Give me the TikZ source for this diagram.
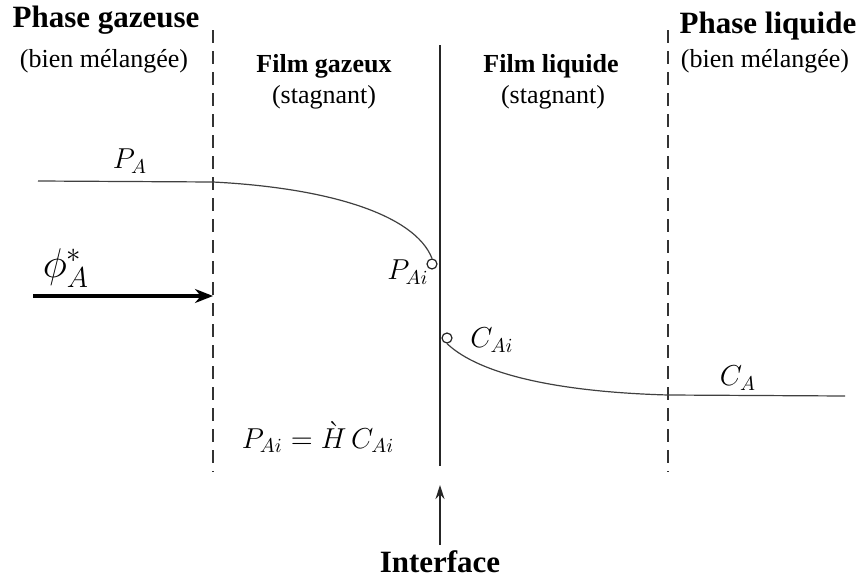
\documentclass[tikz,border=0pt]{standalone}
\usepackage{fontspec}
\setmainfont{Liberation Serif}
\usetikzlibrary{arrows.meta}
\begin{document}
\begin{tikzpicture}[x=0.5pt,y=-0.5pt,
  title/.style={font=\fontsize{15.5}{18}\selectfont\bfseries, inner sep=0pt},
  ftitle/.style={font=\fontsize{13}{15}\selectfont\bfseries, inner sep=0pt},
  sub/.style={font=\fontsize{13}{15}\selectfont, inner sep=0pt},
  mlab/.style={font=\fontsize{14}{16}\selectfont, inner sep=0pt},
  dline/.style={draw=black!80, line width=0.8pt, dash pattern=on 6.5pt off 4pt},
  curve/.style={draw=black!75, line width=0.6pt},
  ringmark/.style={circle, draw=black!85, line width=0.6pt, minimum size=5pt, inner sep=0pt, fill=white}]
\useasboundingbox (0,0) rectangle (858,578);
% titles
\node[title] (pg) at (106,20) {Phase gazeuse};
\node[sub] (pgs) at (104,61) {(bien mélangée)};
\node[ftitle] (fg) at (324,66) {Film gazeux};
\node[sub] (fgs) at (324,97) {(stagnant)};
\node[ftitle] (fl) at (551,66) {Film liquide};
\node[sub] (fls) at (553,97) {(stagnant)};
\node[title] (pl) at (768,26) {Phase liquide};
\node[sub] (pls) at (765,61) {(bien mélangée)};
% boundaries
\coordinate (d1t) at (213,30); \coordinate (d1b) at (213,472);
\coordinate (d2t) at (668,30); \coordinate (d2b) at (668,472);
\coordinate (it) at (440,45); \coordinate (ib) at (440,466);
\draw[dline] (d1t) -- (d1b);
\draw[dline] (d2t) -- (d2b);
\draw[draw=black!85, line width=0.9pt] (it) -- (ib);
% interface label and arrow
\node[title] (intf) at (440,562) {Interface};
\coordinate (ia) at (440,485);
\coordinate (ib0) at (440,545);
\draw[draw=black!85, line width=0.7pt, -{Stealth[length=7pt,width=4.5pt]}] (ib0) -- (ia);
% interface marks
\node[ringmark] (pai) at (432,264) {};
\node[ringmark] (cai) at (447,338) {};
% PA profile
\coordinate (pa0) at (38,181);
\coordinate (pa1) at (213,182);
\draw[curve] (pa0) -- (pa1) .. controls (330,188) and (415,215) .. (pai.north);
% CA profile
\coordinate (ca1) at (668,395);
\coordinate (ca2) at (845,396);
\draw[curve] (cai.south) .. controls (480,375) and (560,392) .. (ca1) -- (ca2);
% flux arrow
\coordinate (f0) at (33,296);
\coordinate (f1) at (213,296);
\draw[line width=1.8pt, -{Stealth[length=9pt,width=7pt]}] (f0) -- (f1);
% labels
\node[mlab] (lpa) at (130,161) {$P_A$};
\node[font=\fontsize{20}{22}\selectfont, inner sep=0pt] (lphi) at (66,268) {$\phi_A^{*}$};
\node[mlab] (lpai) at (408,272) {$P_{Ai}$};
\node[mlab] (lcai) at (492,340) {$C_{Ai}$};
\node[mlab] (lca) at (738,378) {$C_A$};
\node[font=\fontsize{14.5}{16}\selectfont, inner sep=0pt] (eq) at (318,437) {$P_{Ai} = \grave{H}\,C_{Ai}$};
\end{tikzpicture}
\end{document}
